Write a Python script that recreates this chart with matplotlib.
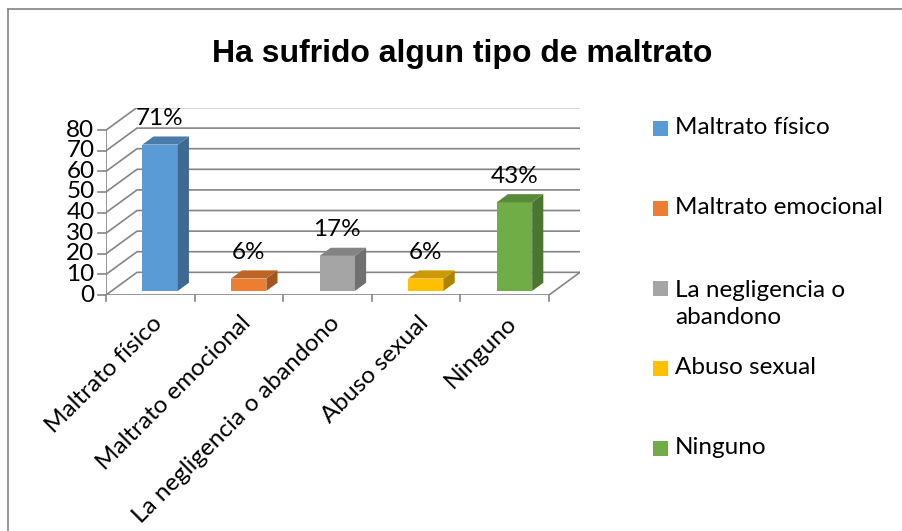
import numpy as np
import matplotlib.pyplot as plt
from matplotlib.patches import Polygon, Rectangle
from matplotlib.colors import to_rgb

# datos del grafico
categorias = ["Maltrato físico", "Maltrato emocional", "La negligencia o abandono",
              "Abuso sexual", "Ninguno"]
leyenda = ["Maltrato físico", "Maltrato emocional", "La negligencia o\nabandono",
           "Abuso sexual", "Ninguno"]
valores = [71, 6, 17, 6, 43]
etiquetas = ["71%", "6%", "17%", "6%", "43%"]
colores = ["#5B9BD5", "#ED7D31", "#A5A5A5", "#FFC000", "#70AD47"]
yticks = [0, 10, 20, 30, 40, 50, 60, 70, 80]

FUENTE = "Lato"
TAM = 17.5
W, H = 903, 531

def oscurece(c, f):
    r, g, b = to_rgb(c)
    return (r * f, g * f, b * f)

fig = plt.figure(figsize=(W / 100, H / 100), dpi=100)

# borde del area del grafico
fig.add_artist(plt.Line2D([8 / W, 8 / W], [0, 1 - 9 / H], color="#8c8c8c", lw=1.3))
fig.add_artist(plt.Line2D([8 / W, 1], [1 - 9 / H, 1 - 9 / H], color="#8c8c8c", lw=1.3))

# ejes: x en categorias, y en valores; la profundidad se simula con DX, DY
ax = fig.add_axes([106 / W, 1 - 295 / H, 474 / W, 187.5 / H])
DX, DY = 0.35, 11
n = len(valores)
ax.set_xlim(0, n + DX)
ax.set_ylim(0, 80 + DY)
ax.axis("off")

gris = "#858585"
lw = 1.2
# lineas de division (pared lateral + pared de fondo)
for t in yticks:
    ax.plot([0, DX, n + DX], [t, t + DY, t + DY], color=gris, lw=lw, solid_capstyle="butt")
    ax.plot([-0.09, 0], [t, t], color=gris, lw=lw, clip_on=False)
    ax.text(-0.13, t, str(t), ha="right", va="center", fontsize=TAM, family=FUENTE)
ax.plot([0, 0], [0, 80], color=gris, lw=lw)
# piso
ax.plot([0, n, n + DX], [0, 0, DY], color=gris, lw=lw)
for i in range(n + 1):
    ax.plot([i, i], [0, -3], color=gris, lw=lw, clip_on=False)

# barras 3D
ancho = 0.4
f0, f1 = 0.18, 0.54
bdx, bdy = (f1 - f0) * DX, (f1 - f0) * DY
y0 = f0 * DY
for i, (v, c, lab) in enumerate(zip(valores, colores, etiquetas)):
    x0 = i + 0.41
    ax.add_patch(Rectangle((x0, y0), ancho, v, facecolor=c, edgecolor="none", zorder=3))
    lado = [(x0 + ancho, y0), (x0 + ancho + bdx, y0 + bdy),
            (x0 + ancho + bdx, y0 + v + bdy), (x0 + ancho, y0 + v)]
    ax.add_patch(Polygon(lado, facecolor=oscurece(c, 0.68), edgecolor="none", zorder=3))
    tapa = [(x0, y0 + v), (x0 + ancho, y0 + v),
            (x0 + ancho + bdx, y0 + v + bdy), (x0 + bdx, y0 + v + bdy)]
    ax.add_patch(Polygon(tapa, facecolor=oscurece(c, 0.8), edgecolor="none", zorder=3))
    ax.text(x0 + ancho / 2, y0 + v + 12.6, lab, ha="center", va="center",
            fontsize=TAM, family=FUENTE, zorder=4)

# etiquetas de categoria
for i, cat in enumerate(categorias):
    ax.text(i + 0.6, -12, cat, rotation=45, rotation_mode="anchor",
            ha="right", va="center", fontsize=TAM, family=FUENTE)

# titulo
fig.text(462 / W, 1 - 62 / H, "Ha sufrido algun tipo de maltrato", ha="center",
         va="baseline", fontsize=23, fontweight="bold", family="Liberation Sans")

# leyenda
ley_y = [128, 208, 304, 368, 448]
for lab, c, yy in zip(leyenda, colores, ley_y):
    ycuad = yy if "\n" not in lab else yy - 16
    fig.add_artist(Rectangle((653 / W, 1 - (ycuad + 7.5) / H), 15 / W, 15 / H,
                             facecolor=c, edgecolor="none", transform=fig.transFigure))
    fig.text(675 / W, 1 - yy / H, lab, ha="left", va="center", fontsize=TAM,
             family=FUENTE, linespacing=1.3)

fig.savefig("out.png", dpi=100)
